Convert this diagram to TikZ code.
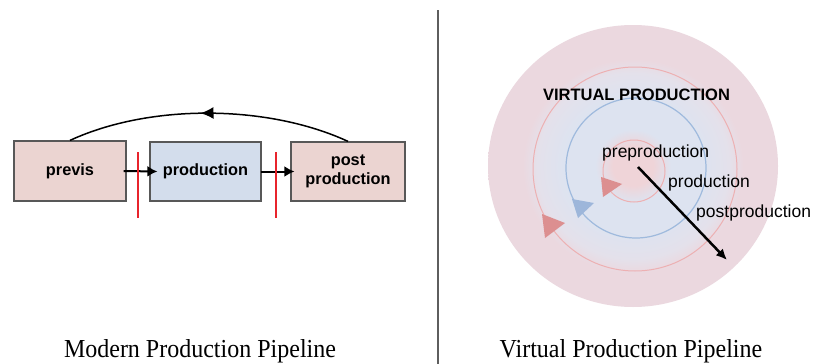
\documentclass[tikz,border=0pt]{standalone}
\usepackage{fontspec}
\setmainfont{Liberation Sans}
\newfontfamily\capfont{Liberation Serif}
\usetikzlibrary{arrows.meta,decorations.markings}
\definecolor{boxpink}{HTML}{EBD4D1}
\definecolor{boxblue}{HTML}{D3DDEC}
\definecolor{boxline}{HTML}{585858}
\definecolor{cutred}{HTML}{E8242C}
\definecolor{cA}{HTML}{EFD4D8}
\definecolor{cB}{HTML}{DDE3F0}
\definecolor{cC}{HTML}{E4E1EB}
\definecolor{cD}{HTML}{EBD8DF}
\definecolor{ringred}{HTML}{EDB0B2}
\definecolor{ringblue}{HTML}{9FBADD}
\definecolor{trired}{HTML}{DC8F90}
\definecolor{triblue}{HTML}{9DB6DA}
\definecolor{divgrey}{HTML}{5E5E5E}
\pgfdeclareradialshading{vpshade}{\pgfpoint{0bp}{0bp}}{color(0bp)=(cA); color(3.5bp)=(cA); color(6.5bp)=(cB); color(12bp)=(cB); color(16.5bp)=(cC); color(19bp)=(cD); color(25bp)=(cD); color(50bp)=(cD)}
\tikzset{
  stagebox/.style={draw=boxline, line width=1.2pt, inner sep=0pt, align=center,
    font=\fontsize{16.3}{19}\selectfont\bfseries},
  flow/.style={line width=2pt, -{Latex[length=10pt,width=11pt]}},
  cut/.style={cutred, line width=1.3pt},
  loopback/.style={line width=1.5pt, postaction={decorate},
    decoration={markings, mark=at position 0.53 with {\arrow{Latex[length=13pt,width=12pt]}}}},
  ringlabel/.style={anchor=base west, inner sep=0pt, font=\fontsize{17.5}{20}\selectfont},
  caption/.style={anchor=base, inner sep=0pt, font=\capfont\fontsize{24}{28}\selectfont, yscale=1.08}
}
\begin{document}
\begin{tikzpicture}[x=1pt, y=-1pt]
\useasboundingbox (0,0) rectangle (817,364);
\fill[white] (0,0) rectangle (817,364);

% ---------- left panel ----------
\node[stagebox, fill=boxpink, minimum width=112pt, minimum height=60pt] (previs) at (70,171) {previs};
\node[stagebox, fill=boxblue, minimum width=111pt, minimum height=59pt] (production) at (205.5,171.5) {production};
\node[stagebox, fill=boxpink, minimum width=114pt, minimum height=59pt] (post) at (348,171.5) {post\\production};

\draw[flow] ([xshift=-3pt]previs.east) -- ([xshift=8pt]production.west);
\draw[flow] ([xshift=-1pt]production.east) -- ([xshift=4pt]post.west);

\draw[loopback] (post.north) .. controls +(-80,-37) and +(80,-37) .. (previs.north);

\coordinate (cutAtop) at (138,152);
\coordinate (cutAbot) at (138,218);
\coordinate (cutBtop) at (276,152);
\coordinate (cutBbot) at (276,218);
\draw[cut] (cutAtop) -- (cutAbot);
\draw[cut] (cutBtop) -- (cutBbot);

% ---------- divider ----------
\coordinate (divtop) at (438,10);
\coordinate (divbot) at (438,364);
\draw[divgrey, line width=1.3pt] (divtop) -- (divbot);

% ---------- right panel ----------
\shade[shading=vpshade] (633,166) ellipse [x radius=145, y radius=141];
\draw[ringred, line width=1pt] (635,169) circle [radius=102];
\draw[ringblue, line width=1.2pt] (636,168) circle [radius=70];
\draw[ringred, line width=1pt] (634,171) circle [radius=31];

\fill[trired] (542,214) -- (545,238) -- (565,223) -- cycle;
\fill[triblue] (572,199) -- (578,218) -- (594,203) -- cycle;
\fill[trired] (601,177) -- (603,197) -- (622,184) -- cycle;

\node[inner sep=0pt, font=\fontsize{16.5}{20}\selectfont\bfseries] (vptitle) at (636.5,95) {VIRTUAL PRODUCTION};
\node[ringlabel] (pre) at (602,157) {preproduction};
\node[ringlabel] (prod) at (668,187) {production};
\node[ringlabel] (postp) at (696,217) {postproduction};

\coordinate (timeA) at (638,167);
\coordinate (timeB) at (727,260);
\draw[line width=2.5pt, -{Latex[length=11pt,width=10pt]}] (timeA) -- (timeB);

% ---------- captions ----------
\node[caption] (capL) at (200,357) {Modern Production Pipeline};
\node[caption] (capR) at (631,357) {Virtual Production Pipeline};
\end{tikzpicture}
\end{document}
